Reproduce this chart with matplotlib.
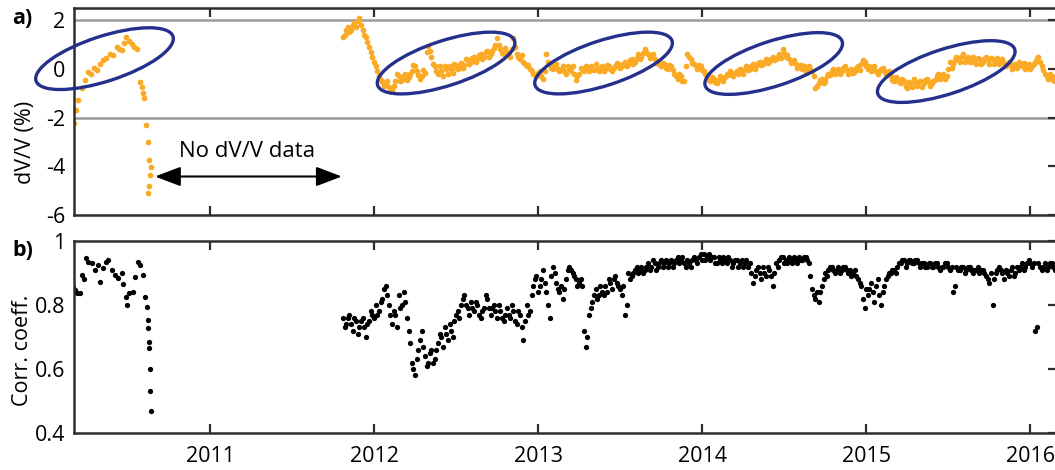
import matplotlib

matplotlib.use("Agg")
import matplotlib.pyplot as plt
import matplotlib.transforms as mtransforms
import numpy as np
from matplotlib.patches import Ellipse

plt.rcParams["font.family"] = ["Open Sans", "DejaVu Sans"]
plt.rcParams["axes.unicode_minus"] = False

# --- data (decimal years) ---

# 2010 stretch, before the gap
t_dvv_2010 = [2010.171, 2010.183, 2010.197, 2010.218, 2010.238, 2010.258, 2010.275,
              2010.292, 2010.309, 2010.328, 2010.348, 2010.368, 2010.390, 2010.410,
              2010.431, 2010.446, 2010.461, 2010.475, 2010.488, 2010.505, 2010.523,
              2010.538, 2010.553,
              2010.573, 2010.583, 2010.593, 2010.599, 2010.610, 2010.620, 2010.628,
              2010.640, 2010.634, 2010.630, 2010.624]
dvv_2010 = [-2.24, -1.69, -1.28, -0.80, -0.46, -0.12, -0.20, 0.05, -0.05, 0.20, 0.36,
            0.45, 0.63, 0.55, 0.90, 0.80, 0.77, 1.05, 1.29, 1.15, 1.04, 0.90, 0.80,
            -0.53, -0.76, -1.00, -1.20, -2.30, -2.99, -3.74, -4.01, -4.35, -4.83, -5.10]

t_cc_2010 = [2010.167, 2010.177, 2010.191, 2010.207, 2010.218, 2010.230, 2010.244,
             2010.258, 2010.278, 2010.299, 2010.319, 2010.329, 2010.346, 2010.366,
             2010.380, 2010.401, 2010.421, 2010.441, 2010.461, 2010.471, 2010.488,
             2010.492, 2010.508, 2010.529, 2010.543, 2010.563, 2010.573, 2010.590,
             2010.604, 2010.614, 2010.620, 2010.624, 2010.628, 2010.630, 2010.634,
             2010.634, 2010.638]
cc_2010 = [0.857, 0.847, 0.837, 0.837, 0.894, 0.880, 0.946, 0.935, 0.930, 0.909, 0.925,
           0.873, 0.915, 0.935, 0.941, 0.909, 0.894, 0.883, 0.899, 0.867, 0.826, 0.800,
           0.837, 0.840, 0.889, 0.935, 0.925, 0.894, 0.826, 0.795, 0.753, 0.727, 0.685,
           0.665, 0.600, 0.532, 0.470]

# readings after the gap: one list on the week, one half a week later
t_late_start = 2011.81
t_late_step = 0.02
dvv_late = [1.3, 1.6, 1.5, 1.8, 1.7, 2.1, 1.6, 1.3, 0.9, 0.5,
            0.1, -0.3, -0.55, -0.6, -0.75, -0.85, -0.5, -0.3, -0.45, -0.2,
            -0.35, -0.1, 0.1, -0.25, -0.3, -0.15, 0.95, 0.5, 0.1, -0.2,
            -0.1, 0.1, -0.2, 0.0, 0.2, 0.0, 0.25, 0.15, 0.35, 0.3,
            0.5, 0.4, 0.6, 0.5, 0.75, 0.6, 0.85, 1.25, 0.8, 0.6,
            0.7, 0.5, 1.25, 0.6, 0.4, 0.3, 0.1, 0.0, -0.2, -0.3,
            -0.1, -0.4, 0.6, 0.2, 0.0, 0.2, -0.1, 0.1, -0.2, 0.0,
            0.1, -0.45, -0.2, 0.0, 0.1, -0.1, 0.0, 0.2, -0.1, 0.1,
            0.0, 0.1, -0.1, 0.1, 0.2, 0.1, 0.3, 0.2, 0.4, 0.3,
            0.6, 0.5, 0.8, 0.6, 0.5, 0.4, 0.3, 0.1, 0.2, 0.0,
            0.1, -0.2, -0.4, -0.3, -0.5, 0.6, 0.4, 0.2, 0.0, 0.1,
            -0.1, -0.3, -0.5, -0.4, -0.6, -0.3, -0.5, -0.2, -0.1, -0.3,
            -0.1, 0.0, -0.2, 0.1, 0.0, 0.2, 0.1, 0.3, 0.2, 0.4,
            0.3, 0.5, 0.4, 0.6, 0.8, 0.5, 0.4, 0.3, 0.2, 0.1,
            0.0, -0.1, 0.1, -0.1, -0.8, -0.6, -0.4, -0.5, -0.2, -0.1,
            -0.2, 0.0, -0.1, 0.1, -0.2, 0.0, -0.1, 0.1, 0.2, 0.3,
            0.0, -0.1, 0.1, -0.2, 0.0, -0.1, -0.2, -0.3, -0.5, -0.4,
            -0.6, -0.5, -0.8, -0.6, -0.4, -0.7, -0.5, -0.6, -0.4, -0.7,
            -0.5, -0.3, -0.4, -0.2, -0.3, 0.3, 0.2, 0.5, 0.3, 0.6,
            0.4, 0.3, 0.5, 0.2, 0.4, 0.3, 0.5, 0.2, 0.4, 0.3,
            0.2, 0.4, 0.1, 0.3, 0.0, 0.2, 0.3, 0.1, 0.0, 0.2,
            0.1, 0.3, 0.5, 0.1, -0.2, -0.4, -0.3, -0.5]
dvv_late_mid = [1.4, 1.7, 1.6, 1.9, 1.95, 1.8, 1.4, 1.1, 0.7, 0.3,
                -0.1, -0.45, -0.7, -0.5, -0.9, -0.7, -0.2, -0.5, -0.3, -0.45,
                -0.2, 0.15, -0.1, -0.4, -0.05, 0.7, 0.75, 0.2, -0.1, 0.1,
                -0.3, 0.0, 0.1, -0.15, 0.05, 0.15, 0.05, 0.4, 0.2, 0.45,
                0.3, 0.55, 0.4, 0.7, 0.5, 0.75, 1.0, 1.0, 0.65, 0.85,
                0.55, 0.8, 0.9, 0.5, 0.55, 0.2, 0.15, -0.1, -0.25, -0.15,
                -0.3, -0.1, 0.3, 0.05, 0.15, 0.0, -0.05, -0.1, 0.1, -0.1,
                -0.2, -0.3, 0.05, -0.1, 0.05, 0.1, -0.05, 0.0, 0.05, -0.1,
                0.15, 0.0, 0.05, 0.25, 0.05, 0.2, 0.1, 0.35, 0.2, 0.45,
                0.4, 0.65, 0.7, 0.45, 0.6, 0.25, 0.2, 0.25, 0.05, 0.15,
                -0.05, -0.3, -0.2, -0.5, 0.1, 0.5, 0.25, 0.1, 0.15, -0.05,
                -0.2, -0.45, -0.35, -0.55, -0.45, -0.4, -0.35, -0.25, -0.2, -0.15,
                -0.2, -0.1, 0.0, -0.05, 0.1, 0.0, 0.25, 0.15, 0.3, 0.25,
                0.4, 0.35, 0.5, 0.45, 0.65, 0.55, 0.25, 0.35, 0.05, 0.15,
                0.1, -0.05, 0.0, -0.3, -0.7, -0.45, -0.6, -0.3, -0.25, 0.0,
                -0.1, -0.2, 0.05, -0.05, -0.15, -0.15, 0.05, -0.05, 0.35, 0.1,
                0.1, -0.05, -0.1, -0.1, 0.05, -0.25, -0.1, -0.45, -0.35, -0.55,
                -0.4, -0.7, -0.55, -0.75, -0.55, -0.55, -0.75, -0.45, -0.55, -0.6,
                -0.45, -0.2, -0.35, -0.4, 0.0, 0.05, 0.35, 0.45, 0.5, 0.3,
                0.5, 0.4, 0.3, 0.45, 0.2, 0.4, 0.35, 0.45, 0.2, 0.45,
                0.3, 0.25, 0.2, 0.15, 0.1, 0.05, 0.2, 0.25, 0.1, 0.0,
                0.2, 0.45, 0.3, -0.05, -0.3, -0.2, -0.45, -0.35]
cc_late = [0.76, 0.74, 0.77, 0.72, 0.75, 0.73, 0.76, 0.70, 0.75, 0.77,
           0.80, 0.78, 0.82, 0.86, 0.80, 0.74, 0.77, 0.83, 0.80, 0.81,
           0.72, 0.62, 0.58, 0.66, 0.72, 0.64, 0.62, 0.66, 0.63, 0.68,
           0.70, 0.73, 0.69, 0.72, 0.75, 0.78, 0.80, 0.83, 0.79, 0.81,
           0.78, 0.80, 0.76, 0.79, 0.82, 0.77, 0.80, 0.76, 0.78, 0.75,
           0.79, 0.76, 0.78, 0.74, 0.77, 0.69, 0.80, 0.78, 0.86, 0.89,
           0.86, 0.91, 0.84, 0.76, 0.92, 0.87, 0.84, 0.82, 0.88, 0.92,
           0.90, 0.88, 0.87, 0.86, 0.67, 0.77, 0.81, 0.85, 0.83, 0.84,
           0.86, 0.88, 0.85, 0.89, 0.86, 0.83, 0.77, 0.90, 0.89, 0.91,
           0.90, 0.92, 0.91, 0.93, 0.92, 0.93, 0.92, 0.94, 0.93, 0.92,
           0.94, 0.93, 0.95, 0.94, 0.93, 0.94, 0.92, 0.95, 0.93, 0.96,
           0.96, 0.95, 0.94, 0.95, 0.93, 0.94, 0.95, 0.93, 0.94, 0.93,
           0.94, 0.93, 0.92, 0.94, 0.93, 0.87, 0.91, 0.90, 0.92, 0.89,
           0.91, 0.86, 0.93, 0.94, 0.95, 0.94, 0.95, 0.93, 0.94, 0.95,
           0.94, 0.95, 0.93, 0.85, 0.82, 0.81, 0.86, 0.90, 0.91, 0.92,
           0.90, 0.92, 0.91, 0.92, 0.90, 0.89, 0.91, 0.88, 0.86, 0.79,
           0.83, 0.87, 0.81, 0.88, 0.80, 0.86, 0.89, 0.90, 0.91, 0.92,
           0.93, 0.94, 0.93, 0.94, 0.93, 0.94, 0.92, 0.93, 0.92, 0.93,
           0.92, 0.93, 0.91, 0.92, 0.93, 0.91, 0.84, 0.92, 0.91, 0.92,
           0.91, 0.92, 0.90, 0.91, 0.90, 0.91, 0.89, 0.87, 0.80, 0.90,
           0.92, 0.90, 0.91, 0.89, 0.92, 0.90, 0.91, 0.93, 0.92, 0.94,
           0.92, 0.72, 0.93, 0.91, 0.93, 0.92, 0.93, 0.91]
cc_late_mid = [0.73, 0.76, 0.74, 0.76, 0.71, 0.75, 0.73, 0.74, 0.78, 0.76,
               0.77, 0.81, 0.85, 0.83, 0.77, 0.78, 0.73, 0.79, 0.84, 0.76,
               0.68, 0.60, 0.63, 0.69, 0.67, 0.61, 0.65, 0.62, 0.66, 0.71,
               0.67, 0.71, 0.74, 0.70, 0.77, 0.76, 0.82, 0.80, 0.77, 0.79,
               0.81, 0.77, 0.78, 0.83, 0.79, 0.79, 0.78, 0.80, 0.76, 0.77,
               0.77, 0.80, 0.75, 0.78, 0.73, 0.75, 0.77, 0.83, 0.88, 0.84,
               0.88, 0.87, 0.80, 0.89, 0.90, 0.85, 0.86, 0.85, 0.91, 0.91,
               0.89, 0.86, 0.88, 0.72, 0.70, 0.79, 0.83, 0.82, 0.86, 0.83,
               0.84, 0.87, 0.88, 0.87, 0.85, 0.86, 0.80, 0.88, 0.90, 0.92,
               0.91, 0.90, 0.92, 0.91, 0.94, 0.91, 0.93, 0.92, 0.94, 0.93,
               0.92, 0.94, 0.93, 0.95, 0.92, 0.93, 0.94, 0.94, 0.95, 0.94,
               0.94, 0.96, 0.95, 0.93, 0.95, 0.93, 0.94, 0.95, 0.92, 0.94,
               0.92, 0.94, 0.93, 0.92, 0.90, 0.89, 0.92, 0.88, 0.90, 0.92,
               0.89, 0.90, 0.92, 0.95, 0.93, 0.93, 0.94, 0.95, 0.93, 0.94,
               0.95, 0.94, 0.89, 0.83, 0.84, 0.84, 0.88, 0.89, 0.92, 0.91,
               0.91, 0.90, 0.92, 0.91, 0.91, 0.90, 0.89, 0.87, 0.82, 0.85,
               0.85, 0.84, 0.86, 0.83, 0.84, 0.88, 0.90, 0.91, 0.90, 0.93,
               0.94, 0.92, 0.94, 0.93, 0.94, 0.93, 0.93, 0.92, 0.93, 0.92,
               0.93, 0.92, 0.92, 0.93, 0.92, 0.92, 0.86, 0.91, 0.92, 0.90,
               0.92, 0.91, 0.91, 0.92, 0.91, 0.90, 0.88, 0.90, 0.88, 0.91,
               0.91, 0.88, 0.90, 0.91, 0.89, 0.92, 0.92, 0.91, 0.93, 0.93,
               0.93, 0.73, 0.92, 0.92, 0.91, 0.93, 0.92, 0.92]

# seasonal ellipses (centre year, centre dV/V)
ellipse_centres = [(2010.357, 0.42), (2012.439, 0.24), (2013.399, 0.24),
                   (2014.436, 0.22), (2015.488, -0.11)]

year_ticks = [2011, 2012, 2013, 2014, 2015, 2016]
dvv_ticks = [2, 0, -2, -4, -6]
cc_ticks = [0.4, 0.6, 0.8, 1.0]
cc_tick_labels = ["0.4", "0.6", "0.8", "1"]

orange = "#FBAA25"
navy = "#25308C"
spine_col = "#2e2e2e"

t_late = t_late_start + t_late_step * np.arange(len(dvv_late))
t_late_mid = t_late + t_late_step / 2

fig = plt.figure(figsize=(10.55, 4.7), dpi=100)
ax_a = fig.add_axes([0.0701, 0.5426, 0.9321, 0.4404])
ax_b = fig.add_axes([0.0701, 0.0787, 0.9321, 0.4085])

for ax in (ax_a, ax_b):
    ax.set_xlim(2010.1707, 2016.165)
    ax.set_xticks(year_ticks)
    for sp in ax.spines.values():
        sp.set_color(spine_col)
        sp.set_linewidth(1.8)
    ax.tick_params(direction="in", length=6.5, width=1.6, color=spine_col,
                   top=True, bottom=True, left=False, right=True,
                   labelsize=15.5, pad=6)
    ax.tick_params(axis="x", pad=9)

# a) dV/V
ax_a.axhline(2, color="#9c9c9c", lw=1.8, zorder=1)
ax_a.axhline(-2, color="#9c9c9c", lw=1.8, zorder=1)
ax_a.plot(t_dvv_2010, dvv_2010, "o", color=orange, ms=4.1, mec="none", zorder=2)
ax_a.plot(t_late, dvv_late, "o", color=orange, ms=4.1, mec="none", zorder=2)
ax_a.plot(t_late_mid, dvv_late_mid, "o", color=orange, ms=4.1, mec="none", zorder=2)
ax_a.set_ylim(-6, 2.5)
ax_a.set_yticks(dvv_ticks)
ax_a.set_yticklabels([str(v) for v in dvv_ticks])
ax_a.set_xticklabels([])

for cx, cy in ellipse_centres:
    tr = fig.dpi_scale_trans + mtransforms.ScaledTranslation(cx, cy, ax_a.transData)
    ax_a.add_patch(Ellipse((0, 0), 1.44, 0.45, angle=18, transform=tr, fill=False,
                           ec=navy, lw=2.4, zorder=3, clip_on=False))

ax_a.annotate("", xy=(2010.665, -4.42), xytext=(2011.803, -4.42),
              arrowprops=dict(arrowstyle="<|-|>,head_length=1.05,head_width=0.4",
                              mutation_scale=15, color="black", lw=1.5,
                              shrinkA=0, shrinkB=0))
ax_a.text(2011.224, -3.41, "No dV/V data", ha="center", va="center", fontsize=16)

# b) correlation coefficient
ax_b.plot(t_cc_2010, cc_2010, "o", color="black", ms=3.8, mec="none")
ax_b.plot(t_late, cc_late, "o", color="black", ms=3.8, mec="none")
ax_b.plot(t_late_mid, cc_late_mid, "o", color="black", ms=3.8, mec="none")
ax_b.set_ylim(0.4, 1.0)
ax_b.set_yticks(cc_ticks)
ax_b.set_yticklabels(cc_tick_labels)
ax_b.set_xticklabels([str(y) for y in year_ticks])

fig.text(0.0237, 0.698, "dV/V (%)", rotation=90, ha="center", va="center", fontsize=15.5)
fig.text(0.0213, 0.255, "Corr. coeff.", rotation=90, ha="center", va="center", fontsize=15.5)
fig.text(0.0114, 0.9606, "a)", ha="left", va="center", fontsize=15.5, fontweight="bold")
fig.text(0.0114, 0.468, "b)", ha="left", va="center", fontsize=15.5, fontweight="bold")

fig.savefig("out.png", dpi=100)
